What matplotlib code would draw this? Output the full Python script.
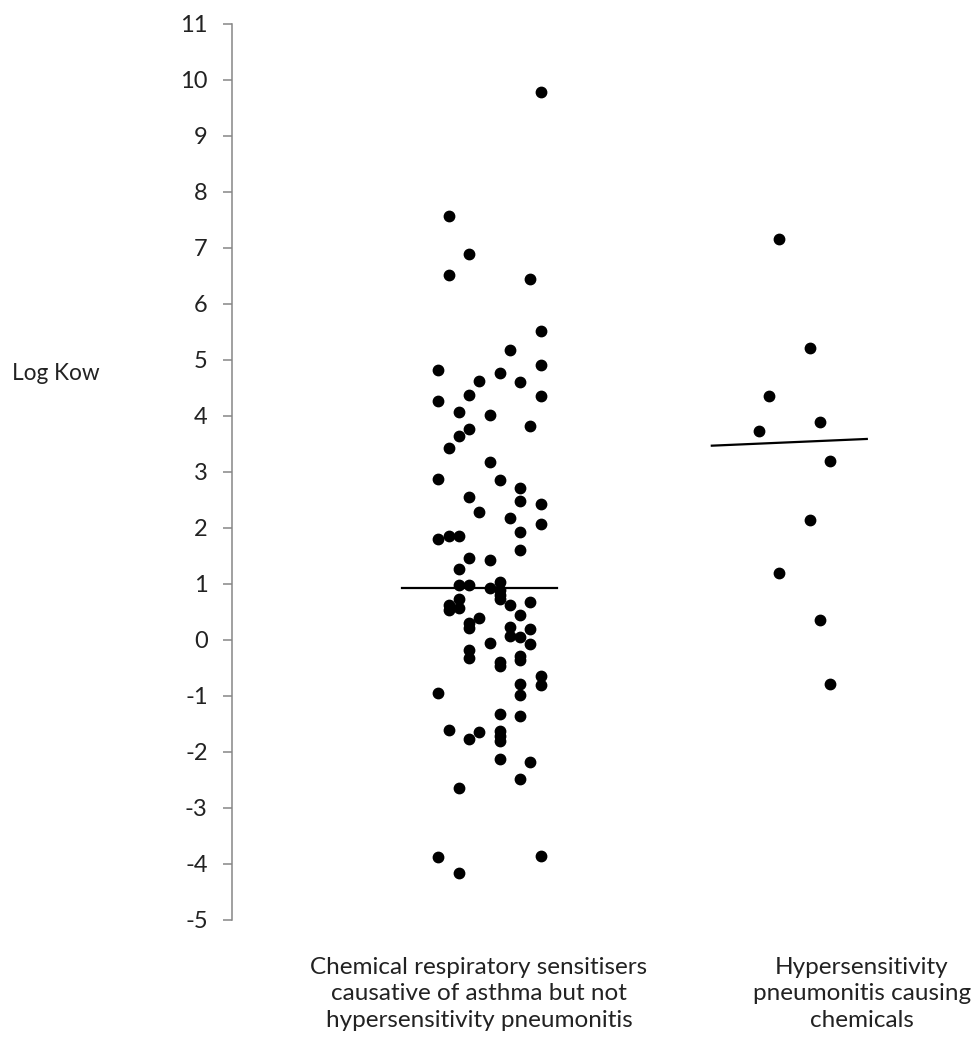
import matplotlib.pyplot as plt

plt.rcParams['font.family'] = ['Lato', 'DejaVu Sans']
plt.rcParams['axes.unicode_minus'] = False

# group 1: chemical respiratory sensitisers (asthma, not HP)
asthma_cols = [6, -3, -1, -3, 5, 6, 3, -4, 6, 2, 0, 4, -1, 6, -4, -2, 1, -1, 5, -2,
               -3, 1, -4, 2, 4, -1, 4, 6, 0, 3, 6, 4, -4, -3, -2, 4, -1, 1, -2, 2,
               -2, -1, 1, 2, 2, 2, -2, -3, -3, -2, 3, 5, 4, 0, -1, -1, 3, 3, 4, 5,
               5, 1, -1, -1, 2, 2, 4, 4, 6, 6, 4, 4, -4, 2, 4, -3, -1, 0, 2, 2,
               2, 2, 5, 4, -2, -4, 6, -2]
asthma_kow = [9.78, 7.57, 6.90, 6.51, 6.44, 5.52, 5.18, 4.83, 4.91, 4.76, 4.63, 4.61,
              4.38, 4.36, 4.27, 4.07, 4.01, 3.77, 3.83, 3.64, 3.42, 3.17, 2.88, 2.85,
              2.71, 2.55, 2.48, 2.42, 2.28, 2.17, 2.07, 1.93, 1.81, 1.85, 1.85, 1.61,
              1.46, 1.42, 1.27, 1.03, 0.98, 0.98, 0.92, 0.89, 0.80, 0.73, 0.74, 0.62,
              0.54, 0.57, 0.62, 0.68, 0.45, 0.40, 0.31, 0.22, 0.24, 0.08, 0.06, 0.20,
              -0.08, -0.06, -0.17, -0.33, -0.39, -0.46, -0.29, -0.36, -0.64, -0.80, -0.79, -0.98,
              -0.95, -1.33, -1.36, -1.61, -1.77, -1.65, -1.62, -1.71, -1.80, -2.12, -2.18, -2.49,
              -2.65, -3.88, -3.86, -4.16]

# group 2: hypersensitivity pneumonitis causing chemicals
hp_cols = [-1, 2, -2, 3, -3, 4, 2, -1, 3, 4]
hp_kow = [7.16, 5.21, 4.36, 3.90, 3.74, 3.19, 2.14, 1.20, 0.35, -0.79]

median_asthma = [0.93, 0.93]
median_hp = [3.47, 3.59]

labels = ['Chemical respiratory sensitisers\ncausative of asthma but not\nhypersensitivity pneumonitis',
          'Hypersensitivity\npneumonitis causing\nchemicals']

step = 0.033
W, H = 979, 1044
fig = plt.figure(figsize=(W / 100, H / 100), dpi=100)
ax = fig.add_axes([232 / W, 124 / H, 747 / W, 896 / H])

ax.scatter([1 + c * step for c in asthma_cols], asthma_kow, s=56, color='black', zorder=3)
ax.scatter([2 + c * step for c in hp_cols], hp_kow, s=56, color='black', zorder=3)
ax.plot([0.75, 1.25], median_asthma, color='black', lw=1.6)
ax.plot([1.75, 2.25], median_hp, color='black', lw=1.6)

ax.set_xlim(0.202, 2.612)
ax.set_ylim(-5, 11)
ax.set_yticks(range(-5, 12))
ax.set_xticks([])
for s in ['top', 'right', 'bottom']:
    ax.spines[s].set_visible(False)
ax.spines['left'].set_color('#868686')
ax.spines['left'].set_linewidth(1.1)
ax.tick_params(axis='y', direction='out', length=6.5, width=1.1, color='#868686',
               pad=11, labelsize=17, labelcolor='#222222')

fig.text(12 / W, 1 - 374 / H, 'Log Kow', fontsize=16.3, color='#222222', ha='left', va='center')
fig.text(479 / W, 1 - 994 / H, labels[0], fontsize=17.5, color='#222222',
         ha='center', va='center', linespacing=1.3)
fig.text(862 / W, 1 - 994 / H, labels[1], fontsize=17.5, color='#222222',
         ha='center', va='center', linespacing=1.3)

plt.savefig('out.png', dpi=100)
